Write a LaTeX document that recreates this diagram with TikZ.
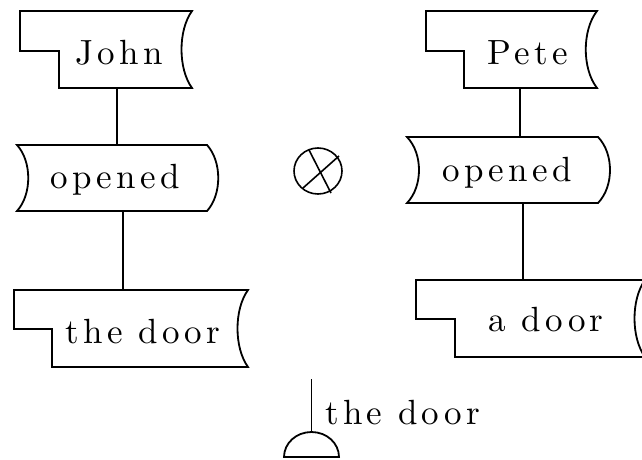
\documentclass[tikz,border=0pt]{standalone}
\usepackage{fontspec}
\usetikzlibrary{shapes.geometric}
\setmainfont{lmroman10-regular}[Extension=.otf, LetterSpace=12]
% noun box: name, L, T, notchY, stepX, B, R, bulge
\newcommand\nounbox[8]{%
  \draw[outline] (#7,#3) -- (#2,#3) -- (#2,#4) -- (#5,#4) -- (#5,#6) -- (#7,#6)
    .. controls ({#7-#8},{#6-0.25*(#6-#3)}) and ({#7-#8},{#3+0.25*(#6-#3)}) .. (#7,#3) -- cycle;
  \coordinate (#1-nw) at (#2,#3);
  \coordinate (#1-se) at (#7,#6);
}
% verb box: name, L, T, B, R, bulge
\newcommand\verbbox[6]{%
  \draw[outline] (#2,#3) -- (#5,#3)
    .. controls ({#5+#6},{#3+0.25*(#4-#3)}) and ({#5+#6},{#4-0.25*(#4-#3)}) .. (#5,#4)
    -- (#2,#4)
    .. controls ({#2+#6},{#4-0.25*(#4-#3)}) and ({#2+#6},{#3+0.25*(#4-#3)}) .. (#2,#3) -- cycle;
  \coordinate (#1-nw) at (#2,#3);
  \coordinate (#1-se) at (#5,#4);
}
\begin{document}
\begin{tikzpicture}[x=1pt,y=-1pt,
  outline/.style={draw=black, line width=1.8pt, line join=miter},
  conn/.style={draw=black, line width=1.8pt},
  thin/.style={draw=black, line width=1.6pt},
  lbl/.style={font=\fontsize{35}{40}\selectfont, inner sep=0pt, anchor=base}]
\useasboundingbox (0,0) rectangle (642,460);
\begin{scope}
\clip (0,0) rectangle (642,460);
% left structure
\nounbox{john}{20}{11}{51}{59}{88}{192}{14}
\node[lbl] (johnt) at (119,64) {John};
\verbbox{opa}{17}{145}{211}{207}{15}
\node[lbl] (opat) at (115,188) {opened};
\nounbox{doora}{14}{290}{329}{52}{367}{248}{14}
\node[lbl] (doorat) at (143,343) {the door};
\coordinate (c1a) at (117,88);
\coordinate (c1b) at (117,145);
\coordinate (c2a) at (123,211);
\coordinate (c2b) at (123,290);
\draw[conn] (c1a) -- (c1b);
\draw[conn] (c2a) -- (c2b);
% right structure
\nounbox{pete}{426}{11}{51}{464}{88}{597}{15}
\node[lbl] (petet) at (528,65) {Pete};
\verbbox{opb}{407}{137}{203}{598}{16}
\node[lbl] (opbt) at (507,181) {opened};
\nounbox{doorb}{416}{280}{319}{455}{357}{645}{14}
\node[lbl] (doorbt) at (546,331) {a door};
\coordinate (c3a) at (520,88);
\coordinate (c3b) at (520,137);
\coordinate (c4a) at (523,203);
\coordinate (c4b) at (523,280);
\draw[conn] (c3a) -- (c3b);
\draw[conn] (c4a) -- (c4b);
% otimes
\node[draw=black, line width=1.6pt, ellipse, minimum width=48pt, minimum height=46pt, inner sep=0pt] (otimes) at (318,171) {};
\draw[thin] (309,150) -- (331,193);
\draw[thin] (339,156) -- (303,188);
% ground symbol
\coordinate (gtop) at (311.5,379);
\coordinate (gbase) at (311.5,432);
\draw[conn] (gtop) -- (gbase);
\draw[outline] (284,457) arc[start angle=180, end angle=360, x radius=27.5, y radius=25] -- cycle;
\node[lbl, anchor=base west] (groundt) at (325,424) {the door};
\end{scope}
\end{tikzpicture}
\end{document}
